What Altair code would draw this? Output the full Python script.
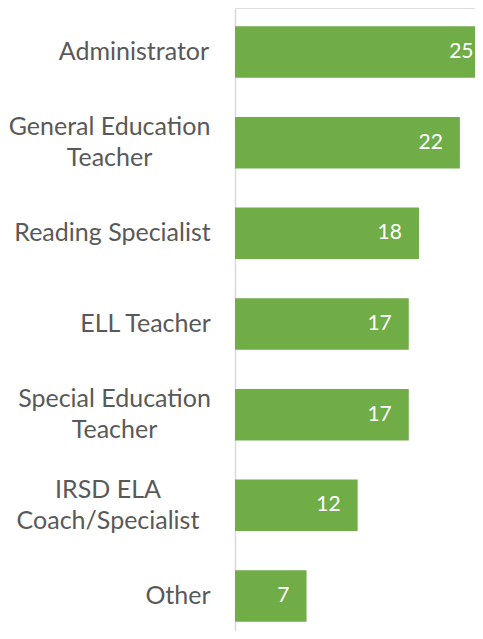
import altair as alt
import pandas as pd

categories = [
    "Administrator",
    "General Education\nTeacher",
    "Reading Specialist",
    "ELL Teacher",
    "Special Education\nTeacher",
    "IRSD ELA\nCoach/Specialist",
    "Other",
]
counts = [25, 22, 18, 17, 17, 12, 7]

# distance from the axis line to the centre of each (centre-aligned) label block
label_pad = [101.5, 126, 123, 90, 121, 127.5, 57.5]

df = pd.DataFrame({"role": categories, "count": counts})

FONT = "Lato"
GREEN = "#70AD47"
GREY_TEXT = "#595959"
LINE_H = 31


def expr_str(c):
    return repr(c).replace("\n", "\\n")


pad_cond = [
    {"test": f"datum.value == {expr_str(c)}", "value": p}
    for c, p in zip(categories, label_pad)
]
offset_cond = {
    "test": "indexof(datum.value, '\\n') >= 0",
    "value": -LINE_H / 2,
}

y_enc = alt.Y(
    "role:N",
    sort=categories,
    scale=alt.Scale(paddingInner=0.432, paddingOuter=0.1515, align=0.664),
    axis=alt.Axis(
        title=None,
        ticks=False,
        domainColor="#D9D9D9",
        domainWidth=1.5,
        labelFont=FONT,
        labelFontSize=25,
        labelColor=GREY_TEXT,
        labelAlign="center",
        labelBaseline="middle",
        labelLineHeight=LINE_H,
        labelLimit=400,
        labelExpr="split(datum.label, '\\n')",
        labelPadding={"condition": pad_cond, "value": 60},
        labelOffset={"condition": offset_cond, "value": 0},
    ),
)

x_scale = alt.Scale(domain=[0, 23.48], nice=False, zero=True)

bars = alt.Chart(df).mark_bar(color=GREEN, clip=True).encode(
    x=alt.X("count:Q", scale=x_scale, axis=None),
    y=y_enc,
)

labels = alt.Chart(df).mark_text(
    color="white", font=FONT, fontSize=21, align="right", baseline="middle", dx=-17
).encode(
    x=alt.X("count:Q", scale=x_scale, axis=None),
    y=alt.Y("role:N", sort=categories),
    text="count:Q",
)

chart = (
    alt.layer(bars, labels)
    .properties(
        width=240,
        height=623,
        autosize=alt.AutoSizeParams(type="none"),
        padding={"left": 227, "top": 0, "right": 0, "bottom": 0},
    )
    .configure_view(stroke=None)
    .configure(background="white")
)

chart.save("out.html", embed_options={"renderer": "svg", "actions": False})
